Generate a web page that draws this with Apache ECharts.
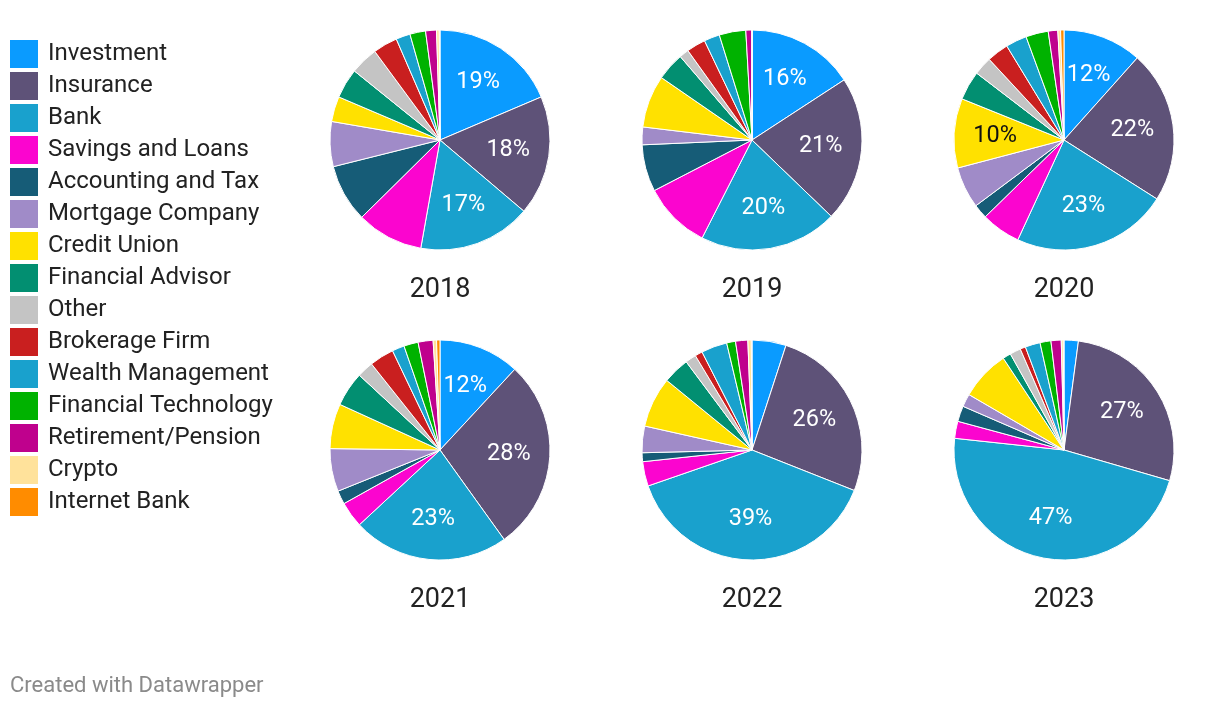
<!DOCTYPE html>
<html>
<head>
<meta charset="utf-8">
<script src="https://cdn.jsdelivr.net/npm/echarts@6/dist/echarts.min.js"></script>
<style>
html,body{margin:0;padding:0;background:#fff;}
#chart{width:1220px;height:708px;}
</style>
</head>
<body>
<div id="chart"></div>
<script>
const categories = ['Investment','Insurance','Bank','Savings and Loans','Accounting and Tax','Mortgage Company','Credit Union','Financial Advisor','Other','Brokerage Firm','Wealth Management','Financial Technology','Retirement/Pension','Crypto','Internet Bank'];
const colors = ['#0a9bff','#5e5278','#19a1cd','#fb05cf','#165c77','#a08bc8','#ffe100','#028f71','#c4c4c4','#c91f1f','#19a1cd','#00b200','#bf018d','#ffe29b','#ff8c00'];
const years = ['2018','2019','2020','2021','2022','2023'];
const values2018 = [18.6,17.6,16.6,9.8,8.5,6.6,3.7,4.4,4.1,3.6,2.1,2.3,1.6,0.4,0.1];
const values2019 = [15.8,21.4,20.3,9.9,6.9,2.6,7.7,4.1,1.4,2.8,2.3,3.9,0.9,0,0];
const values2020 = [11.6,22.4,22.9,5.8,2.1,6.1,10.2,4.3,2.7,3.2,3.1,3.3,1.4,0.4,0.5];
const values2021 = [11.9,28.2,23.0,3.8,2.0,6.3,6.6,5.1,2.4,3.6,1.8,2.1,2.2,0.5,0.5];
const values2022 = [5.0,26.0,38.7,3.6,1.3,3.9,7.4,3.9,1.6,1.1,3.8,1.3,1.8,0.5,0.1];
const values2023 = [2.1,27.4,47.2,2.5,2.3,1.9,7.3,1.2,1.6,0.8,2.2,1.6,1.5,0.3,0.1];
const allValues = [values2018,values2019,values2020,values2021,values2022,values2023];

const centers = [[440,140],[752,140],[1064,140],[440,450],[752,450],[1064,450]];
const R = 110;
const FONT = 'Roboto, "Noto Sans", sans-serif';

const series = [];
allValues.forEach((vals, i) => {
  series.push({
    type: 'pie',
    name: years[i],
    center: centers[i],
    radius: [0, R],
    startAngle: 90,
    clockwise: true,
    silent: true,
    animation: false,
    label: {show: false},
    labelLine: {show: false},
    itemStyle: {borderColor: '#fff', borderWidth: 1},
    emphasis: {disabled: true},
    data: vals.map((v, k) => ({name: categories[k], value: v, itemStyle: {color: colors[k]}}))
  });
});
allValues.forEach((vals, i) => {
  series.push({
    type: 'pie',
    name: years[i] + ' labels',
    center: centers[i],
    radius: [R * 0.2, R],
    startAngle: 90,
    clockwise: true,
    silent: true,
    animation: false,
    legendHoverLink: false,
    itemStyle: {color: 'rgba(0,0,0,0)', borderWidth: 0},
    emphasis: {disabled: true},
    labelLine: {show: false},
    label: {
      show: true,
      position: 'inside',
      fontFamily: FONT,
      fontSize: 23.5,
      color: '#fff',
      formatter: p => p.percent >= 10 ? Math.round(p.percent) + '%' : ''
    },
    data: vals.map((v, k) => ({name: categories[k], value: v, label: {color: categories[k] === 'Credit Union' ? '#111' : '#fff'}}))
  });
});

const titles = years.map((y, i) => ({
  text: y,
  left: centers[i][0],
  top: centers[i][1] + 137,
  padding: 0,
  textAlign: 'center',
  textStyle: {fontFamily: FONT, fontSize: 27, fontWeight: 'normal', color: '#222'}
}));
titles.push({
  text: 'Created with Datawrapper',
  left: 10,
  top: 675,
  padding: 0,
  textStyle: {fontFamily: FONT, fontSize: 22, fontWeight: 'normal', color: '#8a8a8a'}
});

const chart = echarts.init(document.getElementById('chart'), null, {renderer: 'canvas'});
chart.setOption({
  backgroundColor: '#fff',
  animation: false,
  title: titles,
  legend: {
    orient: 'vertical',
    left: 10,
    top: 40,
    padding: 0,
    itemWidth: 28,
    itemHeight: 28,
    itemGap: 4,
    icon: 'rect',
    selectedMode: false,
    textStyle: {fontFamily: FONT, fontSize: 24, color: '#222', padding: [2,0,0,5]},
    data: categories.map((c, k) => ({name: c, itemStyle: {color: colors[k], borderWidth: 0}}))
  },
  series: series
});
</script>
</body>
</html>
